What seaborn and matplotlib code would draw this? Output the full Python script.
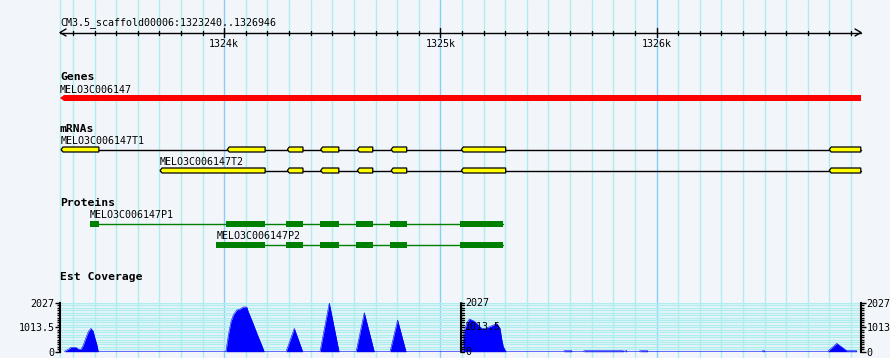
import matplotlib
matplotlib.use("Agg")
import matplotlib.pyplot as plt
from matplotlib.patches import Polygon
from matplotlib.ticker import MultipleLocator, FixedLocator, FixedFormatter
import numpy as np
import pandas as pd
import seaborn as sns

# ---------------- data ----------------
region_label = "CM3.5_scaffold00006:1323240..1326946"
region_start = 1323240
region_end = 1326946
ruler_major = [1324000, 1325000, 1326000]
ruler_major_labels = ["1324k", "1325k", "1326k"]

gene_name = "MELO3C006147"
gene_start = 1323240
gene_end = 1326946

t1_name = "MELO3C006147T1"
t1_exons = [(1323245, 1323420), (1324014, 1324189), (1324292, 1324364),
            (1324446, 1324530), (1324616, 1324687), (1324772, 1324844),
            (1325097, 1325302), (1326799, 1326945)]
t2_name = "MELO3C006147T2"
t2_exons = [(1323703, 1324189), (1324292, 1324364),
            (1324446, 1324530), (1324616, 1324687), (1324772, 1324844),
            (1325097, 1325302), (1326799, 1326945)]

p1_name = "MELO3C006147P1"
p1_cds = [(1323379, 1323420), (1324009, 1324189), (1324286, 1324363),
          (1324443, 1324531), (1324610, 1324688), (1324767, 1324845),
          (1325091, 1325290)]
p2_name = "MELO3C006147P2"
p2_cds = [(1323963, 1324189), (1324286, 1324363),
          (1324443, 1324531), (1324610, 1324688), (1324767, 1324845),
          (1325091, 1325290)]

cov_max = 2027
cov_tick_labels_left = ["0", "1013.5", "2027"]
cov_tick_labels_right = ["0", "1013", "2027"]
cov_pos = [1323261, 1323263, 1323278, 1323291, 1323313, 1323325, 1323337, 1323348,
           1323359, 1323371, 1323383, 1323393, 1323402, 1323411, 1323417,
           1324007, 1324011, 1324019, 1324031, 1324042, 1324058, 1324073, 1324088,
           1324104, 1324111, 1324127, 1324142, 1324157, 1324173, 1324185,
           1324286, 1324324, 1324363,
           1324443, 1324486, 1324531,
           1324610, 1324648, 1324694,
           1324767, 1324802, 1324841,
           1325103, 1325109, 1325122, 1325134, 1325145, 1325160, 1325175, 1325191,
           1325206, 1325229, 1325245, 1325260, 1325276, 1325283, 1325291, 1325304,
           1325572, 1325572, 1325608, 1325608,
           1325664, 1325664, 1325846, 1325846,
           1325854, 1325854, 1325862, 1325862,
           1325923, 1325923, 1325959, 1325959,
           1326491, 1326491, 1326499, 1326499,
           1326790, 1326834, 1326880, 1326926, 1326926]
cov_val = [0, 28, 97, 180, 180, 111, 97, 278,
           555, 833, 972, 861, 555, 278, 0,
           0, 208, 694, 1250, 1527, 1735, 1777, 1860,
           1860, 1666, 1319, 972, 625, 278, 0,
           0, 972, 0,
           0, 2027, 0,
           0, 1624, 0,
           0, 1319, 0,
           0, 833, 1180, 1360, 1319, 1250, 1110, 972,
           972, 1041, 1110, 1180, 972, 555, 208, 0,
           0, 40, 40, 0,
           0, 40, 40, 0,
           0, 40, 40, 0,
           0, 40, 40, 0,
           0, 40, 40, 0,
           0, 347, 40, 40, 0]
cov_mid_axis = 1325095

# ---------------- style ----------------
sns.set_style("white")
plt.rcParams['font.family'] = ['DejaVu Sans Mono', 'DejaVu Sans']

BG = "#F2F5FA"
GRID = "#AEEEEE"
GRID_MAJOR = "#87CEFA"
W, H = 890, 358
S = (region_end - region_start) / 801.0   # bp per pixel

fig = plt.figure(figsize=(W / 100, H / 100), dpi=100, facecolor=BG)
ax = fig.add_axes([0, 0, 1, 1])
ax.set_facecolor(BG)
ax.set_xlim(region_start - 60 * S, region_start + 830 * S)
ax.set_ylim(H, 0)
ax.axis("off")

# vertical grid lines
grid_pos = [region_start] + list(range(1323300, region_end, 100))
for g in grid_pos:
    c = GRID_MAJOR if g in ruler_major else GRID
    ax.axvline(g, color=c, lw=1.0, zorder=0)

small = dict(fontsize=7.2, color="black")
bold = dict(fontsize=8.2, color="black", fontweight="bold")

# ruler
ax.text(region_start, 25, region_label, ha="left", va="baseline", **small)
ax.plot([region_start, region_end], [32.5, 32.5], color="black", lw=1.0)
ax.plot([region_start + 6 * S, region_start, region_start + 6 * S], [29, 32.5, 36], color="black", lw=1.0)
ax.plot([region_end - 6 * S, region_end, region_end - 6 * S], [29, 32.5, 36], color="black", lw=1.0)
for t in range(1323300, region_end, 100):
    if t in ruler_major:
        ax.plot([t, t], [28, 37], color="black", lw=1.0)
    else:
        ax.plot([t, t], [30.5, 34.5], color="black", lw=1.0)
for t, lab in zip(ruler_major, ruler_major_labels):
    ax.text(t, 46.7, lab, ha="center", va="baseline", **small)

# genes
ax.text(region_start, 80, "Genes", ha="left", va="baseline", **bold)
ax.text(region_start, 92.7, gene_name, ha="left", va="baseline", **small)
ax.add_patch(Polygon([(gene_start, 98), (gene_start + 4 * S, 95), (gene_end, 95),
                      (gene_end, 101), (gene_start + 4 * S, 101)],
                     closed=True, facecolor="#FF0000", edgecolor="none", zorder=3))

# mRNAs
ax.text(region_start, 132.3, "mRNAs", ha="left", va="baseline", **bold)


def draw_mrna(exons, name, yc, label_base):
    ax.text(exons[0][0], label_base, name, ha="left", va="baseline", **small)
    ax.plot([exons[0][0], exons[-1][1]], [yc, yc], color="black", lw=1.0, zorder=2)
    for s, e in exons:
        ax.add_patch(Polygon([(s, yc), (s + 2 * S, yc - 2.5), (e, yc - 2.5),
                              (e, yc + 2.5), (s + 2 * S, yc + 2.5)], closed=True,
                             facecolor="#FFFF00", edgecolor="black", lw=0.9, zorder=3))


draw_mrna(t1_exons, t1_name, 149.5, 144)
draw_mrna(t2_exons, t2_name, 170.5, 165)

# proteins
ax.text(region_start, 206, "Proteins", ha="left", va="baseline", **bold)


def draw_protein(cds, name, yc, label_base):
    ax.text(cds[0][0], label_base, name, ha="left", va="baseline", **small)
    ax.plot([cds[0][0], cds[-1][1]], [yc, yc], color="#008000", lw=1.0, zorder=2)
    for s, e in cds:
        ax.add_patch(Polygon([(s, yc - 3), (e, yc - 3), (e, yc + 3), (s, yc + 3)],
                             closed=True, facecolor="#008000", edgecolor="none", zorder=3))


draw_protein(p1_cds, p1_name, 224, 218.3)
draw_protein(p2_cds, p2_name, 245, 239.3)

# coverage
ax.text(region_start, 279.5, "Est Coverage", ha="left", va="baseline", **bold)

axc = fig.add_axes([60 / W, (H - 351.7) / H, 801 / W, 48.7 / H])
axc.set_facecolor("none")
axc.set_xlim(region_start, region_end)
axc.set_ylim(0, cov_max)
for k in range(21):
    axc.axhline(cov_max * k / 20, color=GRID, lw=1.0, zorder=0)
df = pd.DataFrame({"pos": cov_pos, "cov": cov_val})
axc.fill_between(df["pos"], 0, df["cov"], color="#0000FF", lw=0, zorder=2)
sns.lineplot(data=df, x="pos", y="cov", ax=axc, color="#0000FF", lw=0.4, sort=False,
             estimator=None, zorder=2)
axc.set_xlabel("")
axc.set_ylabel("")
axc.set_xticks([])


def style_scale(a, side, labels):
    for sp in ["top", "bottom", "left", "right"]:
        a.spines[sp].set_visible(sp == side)
    a.spines[side].set_color("black")
    a.spines[side].set_linewidth(1.5)
    a.yaxis.set_major_locator(FixedLocator([0, cov_max / 2, cov_max]))
    a.yaxis.set_major_formatter(FixedFormatter(labels))
    a.yaxis.set_minor_locator(MultipleLocator(cov_max / 20))
    a.tick_params(axis="y", which="both", left=(side == "left"), right=(side == "right"),
                  labelleft=(side == "left"), labelright=(side == "right"),
                  direction="out", width=1.0, labelsize=7.2, pad=0.5, colors="black")
    a.tick_params(axis="y", which="major", length=3.5)
    a.tick_params(axis="y", which="minor", length=2.5)


style_scale(axc, "left", cov_tick_labels_left)
axr = axc.twinx()
axr.set_ylim(0, cov_max)
axr.set_facecolor("none")
style_scale(axr, "right", cov_tick_labels_right)

# middle scale
axc.plot([cov_mid_axis, cov_mid_axis], [0, cov_max], color="black", lw=1.5, zorder=4,
         clip_on=False)
for k in range(21):
    v = cov_max * k / 20
    axc.plot([cov_mid_axis, cov_mid_axis + 3 * S], [v, v], color="black", lw=1.0,
             zorder=4, clip_on=False)
for v, lab in zip([0, cov_max / 2, cov_max], cov_tick_labels_left):
    axc.text(cov_mid_axis + 4 * S, v, lab, ha="left", va="center", fontsize=7.2,
             color="black", zorder=5, clip_on=False)

fig.savefig("out.png", dpi=100, facecolor=BG)
